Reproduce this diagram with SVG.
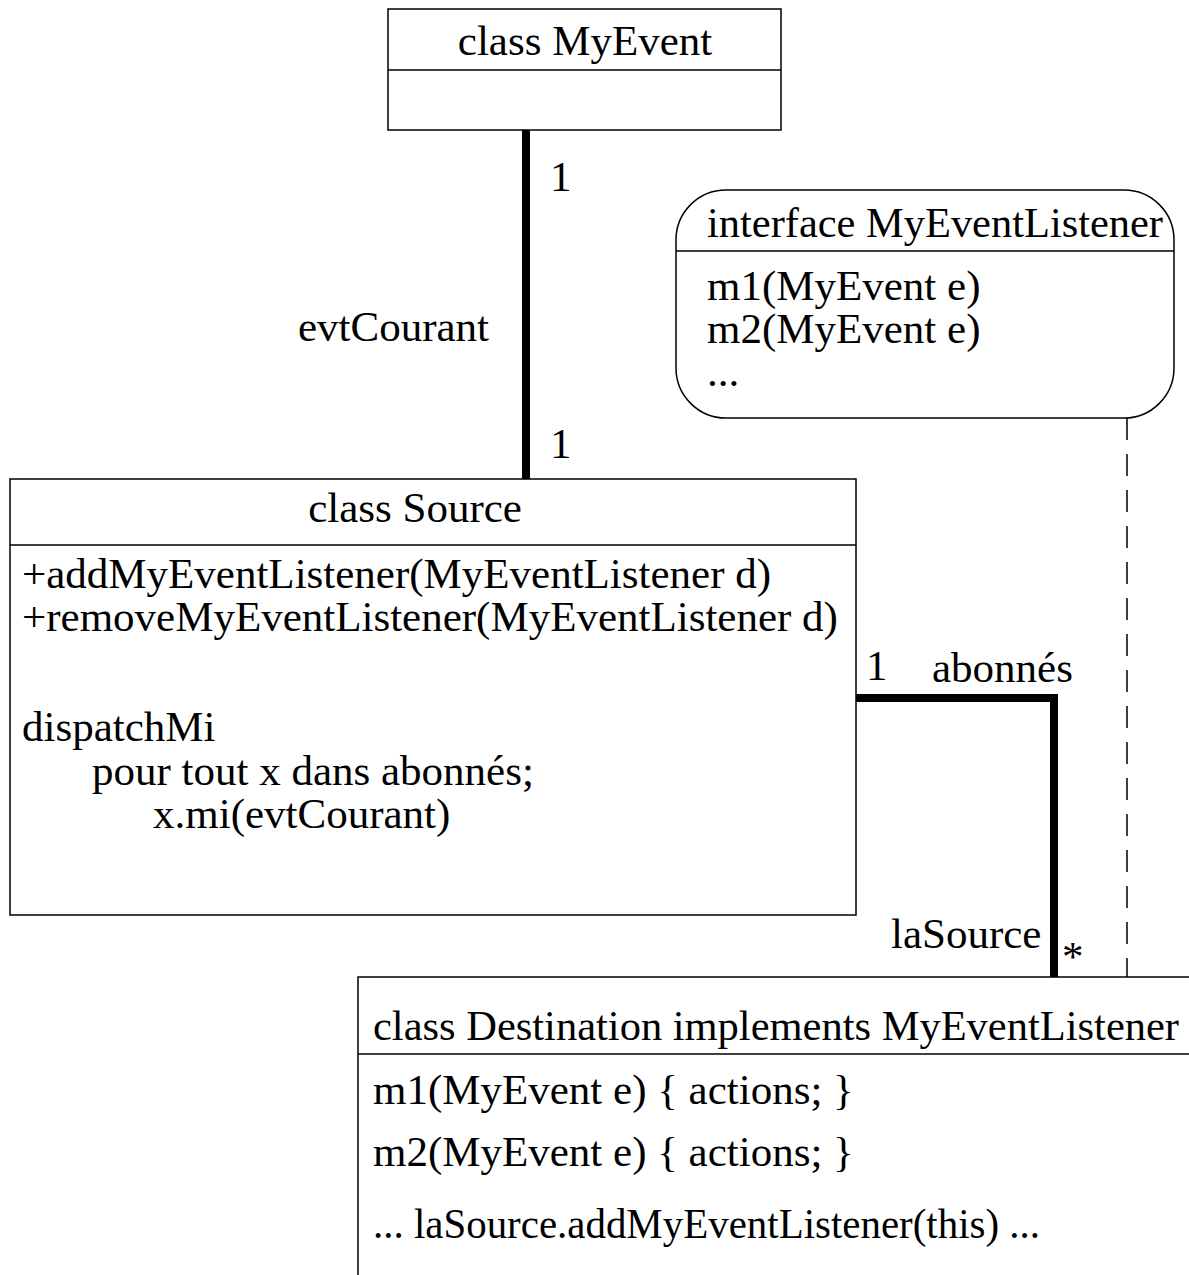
<svg xmlns="http://www.w3.org/2000/svg" width="1189" height="1275" viewBox="0 0 1189 1275">
<style>
text{font-family:"Liberation Serif","Times New Roman",serif;font-size:43px;fill:#000}
.box{fill:#fff;stroke:#000;stroke-width:1.5}
.div{stroke:#000;stroke-width:1.5}
.assoc{fill:none;stroke:#000;stroke-width:8}
.dash{fill:none;stroke:#000;stroke-width:1.5;stroke-dasharray:22 14}
</style>
<rect width="1189" height="1275" fill="#fff"/>
<g id="connectors">
<line class="assoc" x1="526" y1="127" x2="526" y2="482"/>
<polyline class="assoc" points="853,698 1054,698 1054,981"/>
<line class="dash" x1="1127" y1="418" x2="1127" y2="977"/>
<text x="550" y="191">1</text>
<text x="298" y="341">evtCourant</text>
<text x="550" y="458">1</text>
<text x="866" y="680">1</text>
<text x="932" y="682">abonnés</text>
<text x="891" y="948">laSource</text>
<text x="1062" y="971">*</text>
</g>
<g id="MyEvent">
<rect class="box" x="388" y="9" width="393" height="121"/>
<line class="div" x1="388" y1="70" x2="781" y2="70"/>
<text x="585" y="55" text-anchor="middle">class MyEvent</text>
</g>
<g id="MyEventListener">
<rect class="box" x="676" y="190" width="498" height="228" rx="50" ry="50"/>
<line class="div" x1="676" y1="251" x2="1174" y2="251"/>
<text x="707" y="237" textLength="456" lengthAdjust="spacingAndGlyphs">interface MyEventListener</text>
<text x="707" y="300">m1(MyEvent e)</text>
<text x="707" y="343">m2(MyEvent e)</text>
<text x="707" y="386">...</text>
</g>
<g id="Source">
<rect class="box" x="10" y="479" width="846" height="436"/>
<line class="div" x1="10" y1="545" x2="856" y2="545"/>
<text x="415" y="522" text-anchor="middle">class Source</text>
<text x="22" y="588">+addMyEventListener(MyEventListener d)</text>
<text x="22" y="631">+removeMyEventListener(MyEventListener d)</text>
<text x="22" y="741">dispatchMi</text>
<text x="92" y="785">pour tout x dans abonnés;</text>
<text x="153" y="828">x.mi(evtCourant)</text>
</g>
<g id="Destination">
<rect class="box" x="358" y="977" width="850" height="320"/>
<line class="div" x1="358" y1="1054" x2="1189" y2="1054"/>
<text x="373" y="1040" textLength="806" lengthAdjust="spacingAndGlyphs">class Destination implements MyEventListener</text>
<text x="373" y="1104">m1(MyEvent e) { actions; }</text>
<text x="373" y="1166">m2(MyEvent e) { actions; }</text>
<text x="373" y="1238" textLength="667" lengthAdjust="spacingAndGlyphs">... laSource.addMyEventListener(this) ...</text>
</g>
</svg>
